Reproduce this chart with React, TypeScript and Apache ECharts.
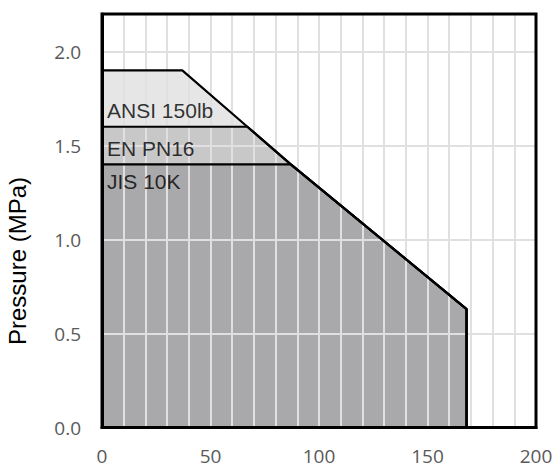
import React, { useEffect, useRef } from "react";
import * as echarts from "echarts";

// Pressure-temperature rating bands (x: temperature, y: pressure MPa)
const ansiCurve: number[][] = [[0, 1.9], [37, 1.9], [67, 1.6], [87, 1.4], [168, 0.63], [168, 0]];
const enCurve: number[][] = [[0, 1.6], [67, 1.6], [87, 1.4], [168, 0.63], [168, 0]];
const jisCurve: number[][] = [[0, 1.4], [87, 1.4], [168, 0.63], [168, 0]];

const bandNames = ["ANSI 150lb", "EN PN16", "JIS 10K"];
const bandLabelX = [2.3, 2.3, 2.3];
const bandLabelY = [1.686, 1.484, 1.309];
const bandColors = ["#e6e6e6", "#c8c8c8", "#a9a8aa"];

const xTicks = [0, 50, 100, 150, 200];
const yTitle = "Pressure (MPa)";

export default function App() {
  const ref = useRef<HTMLDivElement>(null);
  useEffect(() => {
    if (!ref.current) return;
    const chart = echarts.init(ref.current, undefined, { renderer: "svg" });
    const curves = [ansiCurve, enCurve, jisCurve];
    const areaSeries = curves.map((c, i) => ({
      type: "line",
      data: c,
      z: 1 + i * 0.01,
      symbol: "none",
      lineStyle: { width: 0, opacity: 0 },
      areaStyle: { color: bandColors[i], opacity: 1 },
      silent: true,
    }));
    const lineSeries = curves.map((c) => ({
      type: "line",
      data: c,
      z: 10,
      symbol: "none",
      lineStyle: { color: "#000", width: 2.2 },
      silent: true,
    }));
    const labelSeries = {
      type: "scatter",
      z: 12,
      symbolSize: 0,
      data: bandNames.map((n, i) => ({ name: n, value: [bandLabelX[i], bandLabelY[i]] })),
      label: {
        show: true,
        position: "right",
        distance: 0,
        formatter: "{b}",
        color: "#000",
        fontSize: 21,
        fontFamily: "Liberation Sans, Arial, sans-serif",
      },
      silent: true,
    };
    chart.setOption({
      animation: false,
      grid: {
        left: 102,
        right: 18,
        top: 14,
        bottom: 45.5,
        show: true,
        borderColor: "#000",
        borderWidth: 3,
        backgroundColor: "transparent",
        z: 6,
        outerBoundsMode: "none",
        containLabel: false,
      },
      xAxis: {
        type: "value",
        min: 0,
        max: 200,
        interval: 10,
        z: 5,
        axisLine: { show: true, lineStyle: { color: "#000", width: 3 } },
        axisTick: { show: false },
        splitLine: { show: true, lineStyle: { color: "#e2dfe2", width: 2 } },
        axisLabel: {
          margin: 19,
          color: "#595959",
          fontSize: 19,
          fontFamily: "Open Sans, sans-serif",
          formatter: (v: number) => (xTicks.includes(v) ? String(v) : ""),
          showMinLabel: true,
          showMaxLabel: true,
        },
      },
      yAxis: {
        type: "value",
        min: 0,
        max: 2.2,
        interval: 0.5,
        z: 5,
        axisLine: { show: true, lineStyle: { color: "#000", width: 3 } },
        axisTick: { show: false },
        splitLine: { show: true, lineStyle: { color: "#e2dfe2", width: 2 } },
        axisLabel: {
          margin: 21,
          color: "#595959",
          fontSize: 19,
          fontFamily: "Open Sans, sans-serif",
          formatter: (v: number) => (v > 2.1 ? "" : v.toFixed(1)),
          showMaxLabel: false,
        },
      },
      graphic: [
        {
          type: "text",
          x: 17,
          y: 261,
          rotation: Math.PI / 2,
          style: {
            text: yTitle,
            fontSize: 24,
            fontFamily: "Liberation Sans, Arial, sans-serif",
            fill: "#000",
            textAlign: "center",
            textVerticalAlign: "middle",
          },
        },
      ],
      series: [...areaSeries, ...lineSeries, labelSeries],
    });
    return () => chart.dispose();
  }, []);
  return (
    <div
      ref={ref}
      style={{ position: "fixed", left: 0, top: 0, width: 554, height: 473, background: "#fff" }}
    />
  );
}
